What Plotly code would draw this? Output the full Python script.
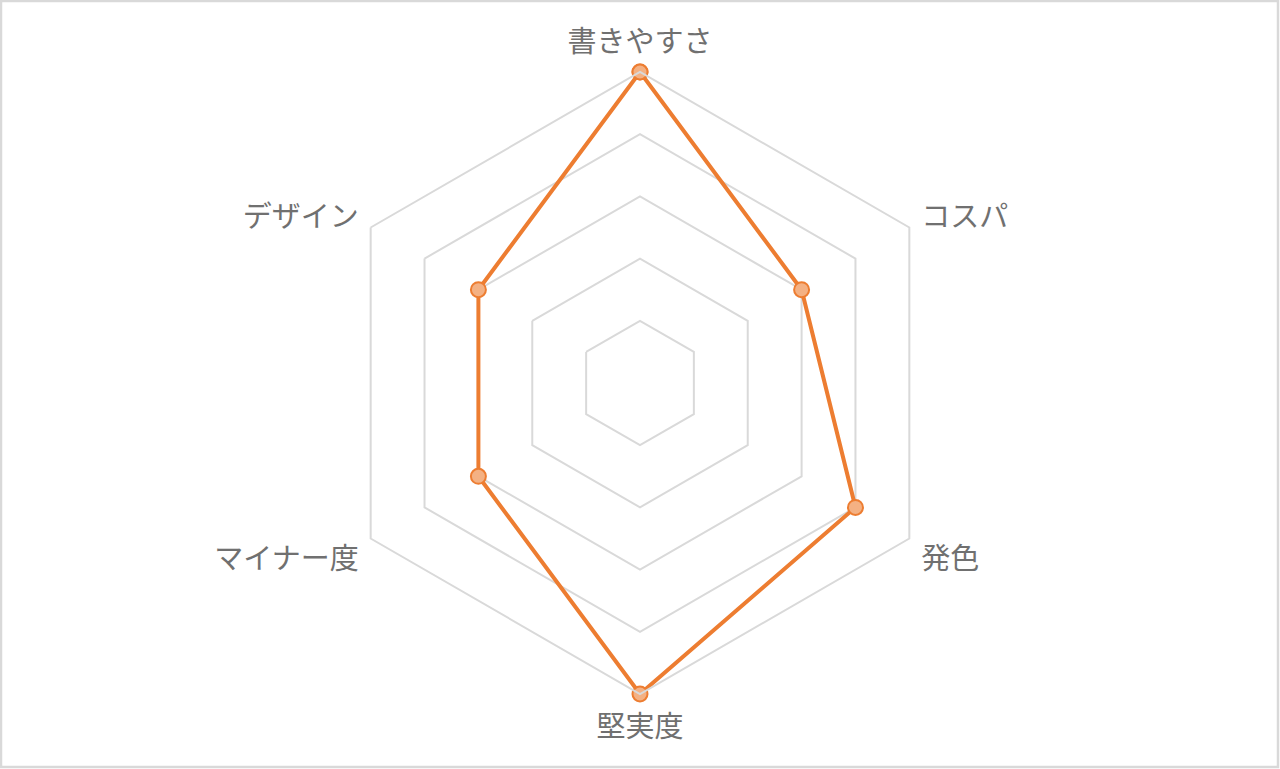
import plotly.graph_objects as go

categories = ["書きやすさ", "コスパ", "発色", "堅実度", "マイナー度", "デザイン"]
values = [5, 3, 4, 5, 3, 3]
radial_ticks = [0, 1, 2, 3, 4, 5]

W, H = 1280, 769
ML, MR, MT, MB = 40, 40, 72, 75

r_closed = values + values[:1]
theta_closed = categories + categories[:1]

fig = go.Figure()
fig.add_trace(go.Scatterpolar(
    r=r_closed,
    theta=theta_closed,
    mode="lines+markers",
    line=dict(color="#ED7D31", width=4),
    marker=dict(size=15, color="#F4B183", line=dict(color="#ED7D31", width=2)),
    hoverinfo="skip",
    showlegend=False,
))

pw = W - ML - MR
ph = H - MT - MB
def px_x(p):
    return (p - ML) / pw
def px_y(p):
    return (H - MB - p) / ph

fig.update_layout(
    width=W, height=H,
    margin=dict(l=ML, r=MR, t=MT, b=MB),
    paper_bgcolor="white",
    plot_bgcolor="white",
    font=dict(family="Noto Sans CJK JP, sans-serif", color="#757575"),
    polar=dict(
        bgcolor="white",
        gridshape="linear",
        radialaxis=dict(
            range=[0, 5],
            tickvals=radial_ticks,
            showticklabels=False,
            ticks="",
            showline=False,
            gridcolor="#D9D9D9",
            gridwidth=2,
        ),
        angularaxis=dict(
            direction="clockwise",
            rotation=90,
            showgrid=False,
            showline=True,
            linecolor="#D9D9D9",
            linewidth=2,
            ticks="outside",
            ticklen=7,
            tickcolor="rgba(0,0,0,0)",
            tickfont=dict(size=29, color="#707070", family="Noto Sans CJK JP, sans-serif"),
        ),
    ),
    shapes=[dict(
        type="rect", xref="paper", yref="paper",
        x0=px_x(1), x1=px_x(1278), y0=px_y(767), y1=px_y(1),
        line=dict(color="#D9D9D9", width=2.5),
        fillcolor="rgba(0,0,0,0)",
        layer="below",
    )],
)

fig.write_html(
    "out.html",
    config={"displayModeBar": False, "staticPlot": True},
    post_script="document.body.style.margin='0';document.body.style.overflow='hidden';",
)
